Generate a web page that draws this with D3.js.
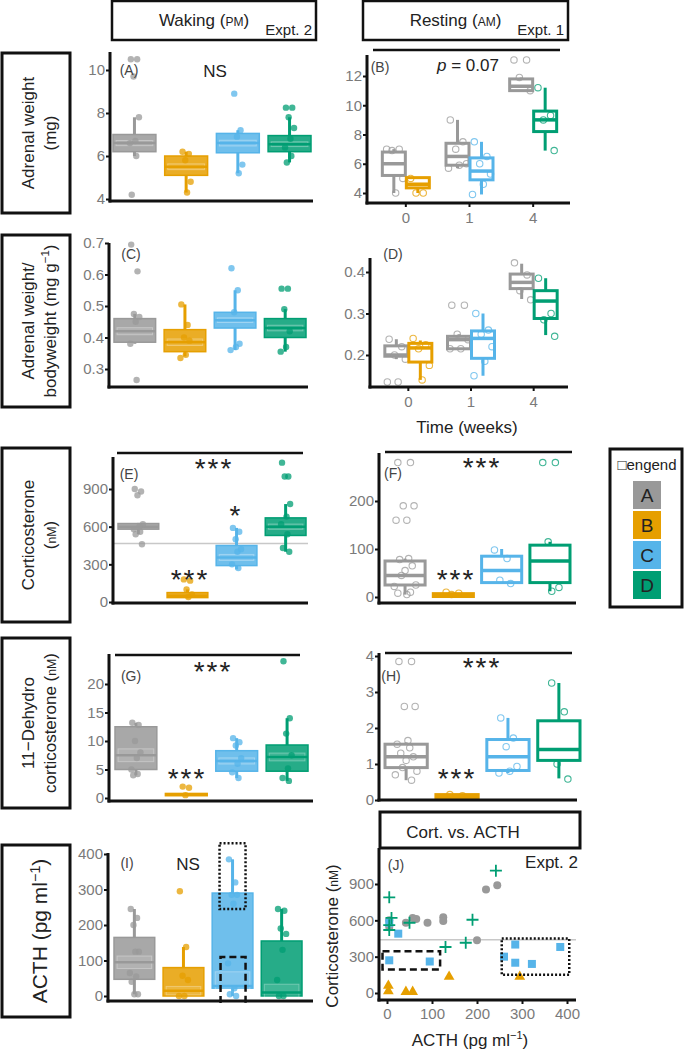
<!DOCTYPE html>
<html><head><meta charset="utf-8">
<script src="https://cdn.jsdelivr.net/npm/d3@7"></script>
<style>body{margin:0;background:#fff}svg{display:block;font-family:"Liberation Sans",Arial,sans-serif}</style>
</head><body><svg id="c" width="685" height="1053"></svg>
<script>
// ---------- DATA ----------
const groups = ["A","B","C","D"];
const groupColors = ["#999999","#E69F00","#56B4E9","#009E73"];
const weeks = ["0","1","4"];
const weekPairs = [["A","B"],["A","C"],["A","D"]];
// box stats: [whiskerLow, q1, median, q3, whiskerHigh]
const boxA = [[6.0,6.2,6.6,7.0,7.8],[4.3,5.1,5.5,6.0,6.2],[5.2,6.15,6.6,7.05,7.2],[5.7,6.2,6.55,6.95,7.8]];
const ptsA = [[10.5,10.5,9.7,7.8,6.7,6.6,6.0,4.2],[6.2,6.1,5.8,4.8,4.3],[8.9,7.2,6.9,5.6,5.2],[8.25,8.25,7.8,7.3,6.8,6.4,6.0,5.7]];
const boxB = [[[4.0,5.2,6.0,6.8,7.0],[4.0,4.35,4.6,5.05,5.05]],[[5.7,5.9,6.5,7.4,9.0],[3.9,4.9,5.5,6.4,7.5]],[[11.0,11.0,11.3,11.8,11.9],[6.9,8.2,9.0,9.6,11.2]]];
const ptsB = [[[7.0,7.0,6.9,5.0,4.0],[5.0,4.0,4.0]],[[9.0,7.5,7.0,6.0,5.9,5.7],[7.5,6.5,6.0,5.3,4.6,3.9]],[[13.1,13.1,11.9,11.0],[11.2,9.3,9.0,6.9]]];
const boxC = [[0.38,0.385,0.42,0.46,0.475],[0.34,0.355,0.385,0.425,0.505],[0.36,0.43,0.455,0.48,0.55],[0.355,0.40,0.43,0.46,0.49]];
const ptsC = [[0.695,0.61,0.475,0.465,0.45,0.38,0.265],[0.505,0.44,0.40,0.39,0.345,0.335],[0.62,0.55,0.48,0.38,0.37,0.36],[0.555,0.555,0.49,0.42,0.37,0.355]];
const boxD = [[[0.19,0.197,0.2,0.222,0.238],[0.14,0.183,0.217,0.228,0.235]],[[0.215,0.215,0.237,0.245,0.25],[0.15,0.192,0.24,0.258,0.3]],[[0.335,0.36,0.375,0.395,0.42],[0.248,0.288,0.33,0.355,0.385]]];
const ptsD = [[[0.238,0.22,0.2,0.19,0.135,0.135],[0.24,0.225,0.215,0.175,0.14]],[[0.32,0.32,0.25,0.237,0.215,0.215],[0.3,0.26,0.25,0.22,0.185,0.15]],[[0.422,0.393,0.355,0.333],[0.385,0.3,0.285,0.245]]];
const boxE = [[540,580,600,625,630],[30,35,50,75,100],[260,290,355,450,590],[400,530,600,670,780]];
const ptsE = [[900,880,850,620,600,580,560,540,460],[180,170,100,60,40],[590,560,500,420,400,300,270],[1110,1000,1000,780,680,620,540,430,400]];
const boxF = [[5,25,45,75,80],[0,1,3,7,8],[28,30,55,85,100],[12,30,75,108,115]];
const ptsF = [[280,280,190,190,160,160,80,78,65,55,45,25,22,10,8,5],[10,8,5],[98,80,35,28],[280,280,115,20,12]];
const boxG = [[4,5,7.5,12.5,13.2],[0.4,0.4,0.6,0.8,0.9],[3.5,4.7,6.5,8.3,10.5],[3,4.7,7.2,9.3,14]];
const ptsG = [[13.2,12.8,10,8,7,5,4.2,4],[2,1.8,0.5],[10.5,9.8,9.2,7,6,4.5,3.5],[24,14,11.3,7.5,5.2,3.5,3]];
const boxH = [[0.55,0.9,1.2,1.55,1.6],[0.07,0.07,0.1,0.15,0.15],[0.75,0.82,1.2,1.68,2.28],[0.6,1.1,1.4,2.2,3.25]];
const ptsH = [[3.85,3.85,2.6,2.6,1.65,1.55,1.45,1.3,1.2,1.1,0.9,0.8,0.7,0.55],[0.15,0.12],[2.28,1.72,1.48,0.93,0.8,0.75],[3.25,2.45,1.0,0.58]];
const boxI = [[5,47,95,165,245],[0,0,15,80,138],[0,22,28,290,385],[0,0,10,155,245]];
const ptsI = [[245,220,200,125,125,65,55,40,5,5],[295,138,57,45,0,0],[385,320,285,285,260,92,22,5,0],[245,240,190,175,130,45,0,0]];
// panel J: ACTH vs corticosterone
const jActhA = [245,220,200,125,125,65,57,42,90,5,5];
const jCortA = [890,855,435,625,595,610,620,580,580,600,545];
const jActhB = [3,3,42,57,138,295];
const jCortB = [60,15,10,10,135,135];
const jActhC = [5,25,5,95,260,285,285,322,385];
const jCortC = [580,490,270,260,300,400,250,240,380];
const jActhD = [242,5,10,5,5,50,190,130,175];
const jCortD = [1010,790,620,520,560,580,605,380,415];
const refLineE = 465, refLineJ = 440;
const dottedBoxI = [245,430], dashedBoxI = [-20,110];
const dashedBoxJ = {acth:[-10,118], cort:[195,345]};
const dottedBoxJ = {acth:[255,405], cort:[150,450]};
const ticksA=[4,6,8,10], ticksB=[4,6,8,10,12], ticksC=[0.3,0.4,0.5,0.6,0.7], ticksD=[0.2,0.3,0.4];
const ticksE=[0,300,600,900], ticksF=[0,100,200], ticksG=[0,5,10,15,20], ticksH=[0,1,2,3,4], ticksI=[0,100,200,300,400];
const ticksJx=[0,100,200,300,400], ticksJy=[0,300,600,900];

// ---------- DRAW ----------
const svg = d3.select("#c");
const col = g => groupColors[groups.indexOf(g)];
const jit = [-4,3,-1,5,1,-5,2,-3,4,0,-2,6,-6,3,-4,1];
const tickGray = "#7a7a7a";
const TK = 15;

function yAxis(x, y, ticks, yTop, yBot, fmt){
  const g = svg.append("g").attr("transform",`translate(${x},0)`)
    .call(d3.axisLeft(y).tickValues(ticks).tickSize(4).tickSizeOuter(0).tickFormat(fmt||d3.format("")));
  g.select(".domain").remove();
  g.selectAll(".tick line").attr("stroke","#111").attr("stroke-width",2);
  g.selectAll(".tick text").attr("fill",tickGray).attr("font-size",TK).attr("font-family","Liberation Sans, Arial").attr("x",-5);
  svg.append("line").attr("x1",x).attr("x2",x).attr("y1",yTop).attr("y2",yBot+1.5).attr("stroke","#111").attr("stroke-width",3);
}
function xLine(x1,x2,y){ svg.append("line").attr("x1",x1-1.5).attr("x2",x2).attr("y1",y).attr("y2",y).attr("stroke","#111").attr("stroke-width",3); }
function sigLine(x1,x2,y){ svg.append("line").attr("x1",x1).attr("x2",x2).attr("y1",y).attr("y2",y).attr("stroke","#111").attr("stroke-width",2.5); }
function txt(x,y,s,opt={}){
  return svg.append("text").attr("x",x).attr("y",y).text(s)
    .attr("font-size",opt.size||14).attr("fill",opt.fill||"#222")
    .attr("text-anchor",opt.anchor||"middle").attr("font-style",opt.italic?"italic":null);
}
function stars(x,y,s){ txt(x,y,s,{size:28,fill:"#222"}).attr("letter-spacing",2); }

function drawBox(cx, w, y, s, color, filled){
  const [lo,q1,md,q3,hi] = s;
  const g = svg.append("g");
  const sw = 3;
  g.append("line").attr("x1",cx).attr("x2",cx).attr("y1",y(lo)).attr("y2",y(q1)).attr("stroke",color).attr("stroke-width",sw);
  g.append("line").attr("x1",cx).attr("x2",cx).attr("y1",y(q3)).attr("y2",y(hi)).attr("stroke",color).attr("stroke-width",sw);
  const h = Math.max(y(q1)-y(q3), 2);
  if(filled){
    g.append("rect").attr("x",cx-w/2).attr("y",y(q3)).attr("width",w).attr("height",h)
      .attr("fill",color).attr("fill-opacity",0.85).attr("stroke",color).attr("stroke-width",1.5);
    const bh = h*0.3;
    if(h>8) g.append("rect").attr("x",cx-w/2+3).attr("y",y(md)-bh/2).attr("width",w-6).attr("height",bh)
      .attr("fill","#fff").attr("fill-opacity",0.12).attr("stroke","#fff").attr("stroke-opacity",0.3).attr("stroke-width",1);
    g.append("line").attr("x1",cx-w/2).attr("x2",cx+w/2).attr("y1",y(md)).attr("y2",y(md)).attr("stroke",color).attr("stroke-width",2.5);
  } else {
    g.append("rect").attr("x",cx-w/2).attr("y",y(q3)).attr("width",w).attr("height",h)
      .attr("fill","#fff").attr("stroke",color).attr("stroke-width",sw);
    g.append("line").attr("x1",cx-w/2).attr("x2",cx+w/2).attr("y1",y(md)).attr("y2",y(md)).attr("stroke",color).attr("stroke-width",3.5);
  }
}
function drawPts(cx, spread, y, vals, color, filled){
  vals.forEach((v,i)=>{
    const c = svg.append("circle").attr("cx",cx+jit[i%jit.length]*spread).attr("cy",y(v)).attr("r",3.2);
    if(filled) c.attr("fill",color).attr("fill-opacity",0.75);
    else c.attr("fill","none").attr("stroke",color).attr("stroke-width",1.1).attr("stroke-opacity",0.75);
  });
}
function groupPanel(o){
  const y = d3.scaleLinear().domain(o.dom).range(o.rng);
  const x = d3.scaleBand().domain(groups).range(o.xr).paddingInner(0.17);
  if(o.ref!==undefined) svg.append("line").attr("x1",o.xa).attr("x2",o.xe).attr("y1",y(o.ref)).attr("y2",y(o.ref)).attr("stroke","#c8c8c8").attr("stroke-width",1.5);
  groups.forEach((gk,i)=>{
    const cx = x(gk)+x.bandwidth()/2;
    drawBox(cx, x.bandwidth(), y, o.box[i], groupColors[i], o.filled);
    drawPts(cx, o.filled?0.9:1.8, y, o.pts[i], groupColors[i], o.filled);
  });
  yAxis(o.xa, y, o.ticks, o.yt, o.yb, o.fmt);
  xLine(o.xa, o.xe, o.yb);
  return {x,y};
}
function weekPanel(o){
  const y = d3.scaleLinear().domain(o.dom).range(o.rng);
  const x = d3.scaleBand().domain(weeks).range(o.xr);
  const bw = 23;
  weeks.forEach((wk,i)=>{
    const c = x(wk)+x.bandwidth()/2;
    weekPairs[i].forEach((gk,j)=>{
      const cx = c + (j===0?-12:12);
      drawBox(cx, bw, y, o.box[i][j], col(gk), false);
      drawPts(cx, 1.8, y, o.pts[i][j], col(gk), false);
    });
  });
  yAxis(o.xa, y, o.ticks, o.yt, o.yb, o.fmt);
  xLine(o.xa, o.xe, o.yb);
  const ax = svg.append("g").attr("transform",`translate(0,${o.yb})`).call(d3.axisBottom(x).tickSize(4).tickSizeOuter(0));
  ax.select(".domain").remove();
  ax.selectAll(".tick line").attr("stroke","#111").attr("stroke-width",2);
  ax.selectAll(".tick text").attr("fill",tickGray).attr("font-size",TK).attr("font-family","Liberation Sans, Arial").attr("y",9);
  return {x,y};
}

// headers
function header(x1,x2,title,small,expt){
  svg.append("rect").attr("x",x1).attr("y",1).attr("width",x2-x1).attr("height",39).attr("fill","none").attr("stroke","#111").attr("stroke-width",2.5);
  const t = svg.append("text").attr("x",(x1+x2)/2-10).attr("y",26).attr("text-anchor","middle").attr("font-size",17).attr("fill","#222");
  t.append("tspan").text(title+" (");
  t.append("tspan").text(small).attr("font-size",12);
  t.append("tspan").text(")");
  txt(x2-4,35,expt,{size:15,anchor:"end"});
}
header(112,316,"Waking","PM","Expt. 2");
header(363,568,"Resting","AM","Expt. 1");

// row labels
function rowBox(y1,y2,lines,size){
  svg.append("rect").attr("x",2).attr("y",y1).attr("width",68).attr("height",y2-y1).attr("fill","none").attr("stroke","#111").attr("stroke-width",3);
  const cy=(y1+y2)/2;
  const n = lines.length;
  lines.forEach((parts,i)=>{
    const lx = n===1 ? 47 : (i===0?34:56);
    const t = svg.append("text").attr("transform",`translate(${lx},${cy}) rotate(-90)`).attr("text-anchor","middle").attr("font-size",size).attr("fill","#222");
    parts.forEach(p=>{
      const ts = t.append("tspan").text(p[0]);
      if(p[1]==="sc") ts.attr("font-size",size*0.72);
      if(p[1]==="sup") ts.attr("font-size",size*0.68).attr("dy",-7);
      if(p[1]==="after") ts.attr("dy",7);
    });
  });
}
rowBox(53,213,[[["Adrenal weight"]],[["(mg)"]]],17);
rowBox(235,407,[[["Adrenal weight/"]],[["bodyweight (mg g"],["−1","sup"],[")","after"]]],17);
rowBox(448,622,[[["Corticosterone"]],[["("],["nM","sc"],[")"]]],17);
rowBox(638,808,[[["11−Dehydro"]],[["corticosterone ("],["nM","sc"],[")"]]],17);
rowBox(845,1017,[[["ACTH (pg ml"],["−1","sup"],[")","after"]]],21);

// Panel A
groupPanel({dom:[4,10],rng:[199,70],xr:[113,311],xa:110,xe:313,yt:52,yb:201,ticks:ticksA,box:boxA,pts:ptsA,filled:true});
txt(129,75,"(A)",{size:14,fill:"#444"});
txt(215,77,"NS",{size:17});
// Panel B
weekPanel({dom:[4,12],rng:[193,76],xr:[374,565],xa:367,xe:570,yt:55,yb:203,ticks:ticksB,box:boxB,pts:ptsB});
sigLine(373,560,50);
txt(380,72,"(B)",{size:14,fill:"#444"});
const pt = svg.append("text").attr("x",468).attr("y",71).attr("text-anchor","middle").attr("font-size",17).attr("fill","#222");
pt.append("tspan").text("p").attr("font-style","italic"); pt.append("tspan").text(" = 0.07");
// Panel C
groupPanel({dom:[0.3,0.7],rng:[369,243],xr:[114,306],xa:109,xe:308,yt:243,yb:387,ticks:ticksC,box:boxC,pts:ptsC,filled:true,fmt:d3.format(".1f")});
txt(131,259,"(C)",{size:14,fill:"#444"});
// Panel D
weekPanel({dom:[0.2,0.4],rng:[355,272],xr:[377,565],xa:370,xe:568,yt:258,yb:387,ticks:ticksD,box:boxD,pts:ptsD,fmt:d3.format(".1f")});
txt(393,259,"(D)",{size:14,fill:"#444"});
txt(467,433,"Time (weeks)",{size:17});
// Panel E
groupPanel({dom:[0,900],rng:[602,489],xr:[118,306],xa:113,xe:308,yt:457,yb:603,ticks:ticksE,box:boxE,pts:ptsE,filled:true,ref:refLineE});
sigLine(117,303,453);
txt(129,479,"(E)",{size:14,fill:"#444"});
stars(214,478,"***"); stars(190,589,"***"); stars(236,525,"*");
// Panel F
groupPanel({dom:[0,200],rng:[597,501],xr:[385,570],xa:379,xe:576,yt:453,yb:603,ticks:ticksF,box:boxF,pts:ptsF,filled:false});
sigLine(385,572,452);
txt(393,478,"(F)",{size:14,fill:"#444"});
stars(482,477,"***"); stars(456,589,"***");
// Legend
svg.append("rect").attr("x",610).attr("y",449).attr("width",72).attr("height",158).attr("fill","none").attr("stroke","#111").attr("stroke-width",3);
txt(647,470,"\u25A1engend",{size:15});
groups.forEach((gk,i)=>{
  const yy = 481 + i*30;
  svg.append("rect").attr("x",633).attr("y",yy).attr("width",28).attr("height",28).attr("fill",groupColors[i]);
  txt(647,yy+21,gk,{size:19});
});
// Panel G
groupPanel({dom:[0,20],rng:[798,684],xr:[115,308],xa:109,xe:313,yt:654,yb:801,ticks:ticksG,box:boxG,pts:ptsG,filled:true});
sigLine(115,300,655);
txt(131,681,"(G)",{size:14,fill:"#444"});
stars(213,681,"***"); stars(187,788,"***");
// Panel H
groupPanel({dom:[0,4],rng:[800,656],xr:[385,580],xa:379,xe:577,yt:653,yb:800,ticks:ticksH,box:boxH,pts:ptsH,filled:false});
sigLine(385,572,653);
txt(391,681,"(H)",{size:14,fill:"#444"});
stars(482,677,"***"); stars(457,788,"***");
// Panel I
const pI = groupPanel({dom:[0,400],rng:[996,854],xr:[114,302],xa:108,xe:313,yt:853,yb:1001,ticks:ticksI,box:boxI,pts:ptsI,filled:true});
txt(127,868,"(I)",{size:14,fill:"#444"});
txt(188,870,"NS",{size:17});
const cxC = pI.x("C")+pI.x.bandwidth()/2;
svg.append("rect").attr("x",cxC-13).attr("y",pI.y(dottedBoxI[1])).attr("width",26).attr("height",pI.y(dottedBoxI[0])-pI.y(dottedBoxI[1]))
  .attr("fill","none").attr("stroke","#111").attr("stroke-width",2.5).attr("stroke-dasharray","2,2");
svg.append("path").attr("d",`M${cxC-12},${pI.y(dashedBoxI[0])}V${pI.y(dashedBoxI[1])}H${cxC+13}V${pI.y(dashedBoxI[0])}`)
  .attr("fill","none").attr("stroke","#111").attr("stroke-width",2.5).attr("stroke-dasharray","7,4");
svg.append("text").attr("transform","translate(338,936) rotate(-90)").attr("text-anchor","middle").attr("font-size",17).attr("fill","#222")
  .call(t=>{t.append("tspan").text("Corticosterone ("); t.append("tspan").text("nM").attr("font-size",12); t.append("tspan").text(")");});
// Panel J
svg.append("rect").attr("x",380).attr("y",812).attr("width",200).attr("height",36).attr("fill","none").attr("stroke","#111").attr("stroke-width",3);
txt(463,838,"Cort. vs. ACTH",{size:17});
const xJ = d3.scaleLinear().domain([0,400]).range([387,567]);
const yJ = d3.scaleLinear().domain([0,900]).range([993,884]);
svg.append("line").attr("x1",379).attr("x2",576).attr("y1",yJ(refLineJ)).attr("y2",yJ(refLineJ)).attr("stroke","#c8c8c8").attr("stroke-width",1.5);
jActhA.forEach((a,i)=>svg.append("circle").attr("cx",xJ(a)).attr("cy",yJ(jCortA[i])).attr("r",4).attr("fill",groupColors[0]));
jActhB.forEach((a,i)=>svg.append("path").attr("d",d3.symbol(d3.symbolTriangle,50)()).attr("transform",`translate(${xJ(a)},${yJ(jCortB[i])})`).attr("fill",groupColors[1]));
jActhC.forEach((a,i)=>svg.append("rect").attr("x",xJ(a)-4).attr("y",yJ(jCortC[i])-4).attr("width",8).attr("height",8).attr("fill",groupColors[2]));
jActhD.forEach((a,i)=>svg.append("path").attr("d",`M-6,0H6M0,-6V6`).attr("transform",`translate(${xJ(a)},${yJ(jCortD[i])})`).attr("stroke",groupColors[3]).attr("stroke-width",1.8));
function jRect(b,dash){
  svg.append("rect").attr("x",xJ(b.acth[0])).attr("y",yJ(b.cort[1])).attr("width",xJ(b.acth[1])-xJ(b.acth[0])).attr("height",yJ(b.cort[0])-yJ(b.cort[1]))
    .attr("fill","none").attr("stroke","#111").attr("stroke-width",2.5).attr("stroke-dasharray",dash);
}
jRect(dashedBoxJ,"7,4"); jRect(dottedBoxJ,"2,2");
yAxis(379, yJ, ticksJy, 848, 1000);
xLine(379,576,1000);
const axJ = svg.append("g").attr("transform","translate(0,1000)").call(d3.axisBottom(xJ).tickValues(ticksJx).tickSize(4).tickSizeOuter(0));
axJ.select(".domain").remove();
axJ.selectAll(".tick line").attr("stroke","#111").attr("stroke-width",2);
axJ.selectAll(".tick text").attr("fill",tickGray).attr("font-size",TK).attr("font-family","Liberation Sans, Arial").attr("y",8);
txt(396,870,"(J)",{size:14,fill:"#444"});
txt(578,868,"Expt. 2",{size:17,anchor:"end"});
svg.append("text").attr("x",470).attr("y",1046).attr("text-anchor","middle").attr("font-size",17).attr("fill","#222")
  .call(t=>{t.append("tspan").text("ACTH (pg ml"); t.append("tspan").text("−1").attr("font-size",11).attr("dy",-7); t.append("tspan").text(")").attr("dy",7);});
</script></body></html>
